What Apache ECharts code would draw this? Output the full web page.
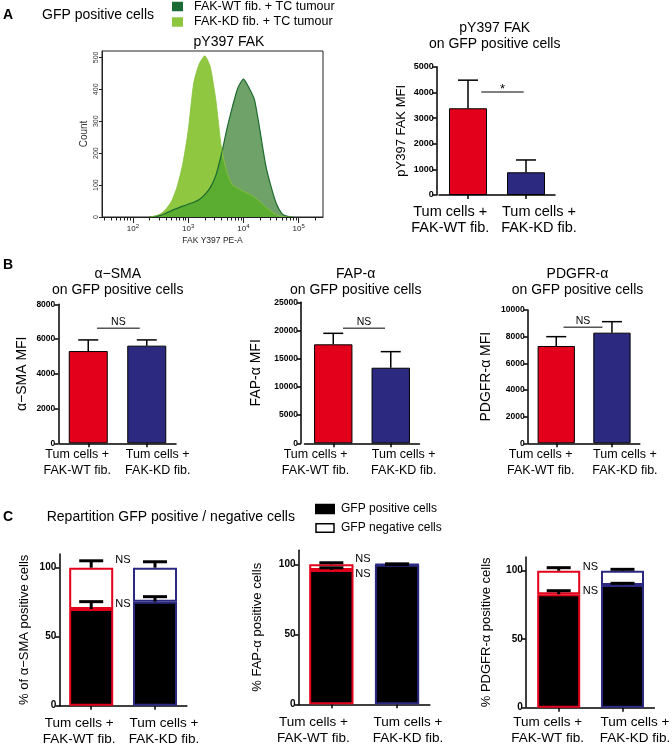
<!DOCTYPE html>
<html><head><meta charset="utf-8">
<script src="https://cdn.jsdelivr.net/npm/echarts@6/dist/echarts.min.js"></script>
<style>html,body{margin:0;padding:0;background:#fff}#c{width:672px;height:748px}</style>
</head><body><div id="c"></div>
<script>
// ================= DATA =================
// Panel A – flow histogram (x = log10 fluorescence, y = count)
const histX  = [2.3,2.4,2.5,2.6,2.7,2.8,2.9,3.0,3.1,3.2,3.3,3.4,3.5,3.6,3.7,3.8,3.9,4.0,4.1,4.2,4.3,4.4,4.5,4.6,4.7,4.8,4.9];
const histWT = [0,2,5,12,20,27,34,40,46,55,70,92,130,195,275,345,405,432,405,367,270,165,95,40,10,2,0];
const histKD = [0,3,10,25,50,95,165,270,420,480,505,470,367,220,140,100,90,80,72,62,48,32,18,6,1,0,0];
const histXTicks = [2,3,4,5];
const histYTicks = [0,100,200,300,400,500];
const histNames = ['FAK-WT fib. + TC tumour','FAK-KD fib. + TC tumour'];

const categories = ['Tum cells +\nFAK-WT fib.','Tum cells +\nFAK-KD fib.'];

// Panel A – pY397 FAK MFI
const pyMean = [3380, 885];
const pyErr  = [1095, 480];
const pySig  = [4010];
// Panel B
const smaMean = [5310, 5620];
const smaErr  = [640, 330];
const smaSig  = [6620];
const fapMean = [17550, 13400];
const fapErr  = [1950, 2850];
const fapSig  = [20390];
const pdgMean = [7300, 8300];
const pdgErr  = [700, 825];
const pdgSig  = [8700];
// Panel C – % positive cells (stacked GFP+ / GFP-)
const cTicks = [0,50,100];
const cNames = ['GFP positive cells','GFP negative cells'];
const smaPos = [70, 75.4],  smaPosErr = [5.4, 3.6],  smaNeg = [30, 24.6],  smaNegErr = [5.0, 4.3];
const fapPos = [96, 99.6],  fapPosErr = [1.5, 0.3],  fapNeg = [4, 0.4],    fapNegErr = [1.1, 0.3];
const pdgPos = [82.8, 89.6], pdgPosErr = [2.6, 1.2], pdgNeg = [17.2, 10.4], pdgNegErr = [2.2, 1.0];
const smaNS = [[0,105.6],[0,73.5]];
const fapNS = [[0,103.6],[0,92.9]];
const pdgNS = [[0,102.9],[0,85.4]];

// ================= CHART =================
const FONT = "'Liberation Sans', Arial, sans-serif";
const RED = '#e2001a', BLUE = '#2b2a80';
const EDGE = [RED, BLUE];

const option = {animation:false, backgroundColor:'#fff', grid:[], xAxis:[], yAxis:[], series:[], legend:[], graphic:[]};

function addGrid(g){ option.grid.push(Object.assign({show:false, containLabel:false, outerBoundsMode:'none'}, g)); return option.grid.length-1; }

const axLine = {show:true, lineStyle:{color:'#000', width:1.5}};
const plain = v => String(v);

function valueY(gi, max, interval, name, gap, nameSize, tickSize, extra){
  option.yAxis.push(Object.assign({type:'value', gridIndex:gi, min:0, max:max, interval:interval,
    name:name, nameLocation:'middle', nameRotate:90, nameGap:gap,
    nameTextStyle:{fontSize:nameSize, fontFamily:FONT, color:'#000'},
    axisLine:axLine,
    axisTick:{show:true, length:4, lineStyle:{color:'#000', width:1.5}},
    axisLabel:{fontSize:tickSize, fontWeight:'bold', fontFamily:FONT, color:'#000', margin:3, formatter:plain},
    splitLine:{show:false}}, extra||{}));
  return option.yAxis.length-1;
}
function catX(gi, shifts, size, lh, margin){
  const base = {fontFamily:FONT, fontSize:size, lineHeight:lh, color:'#000'};
  const pad = s => s < 0 ? [0, -2*s, 0, 0] : [0, 0, 0, 2*s];
  option.xAxis.push({type:'category', gridIndex:gi, data:categories,
    axisLine:axLine,
    axisTick:{show:true, alignWithLabel:true, length:4, lineStyle:{color:'#000', width:1.5}},
    axisLabel:{interval:0, margin:margin,
      formatter:(v,i)=> (i===0 ? '{l|' : '{r|') + v + '}',
      rich:{l:Object.assign({padding:pad(shifts[0])}, base), r:Object.assign({padding:pad(shifts[1])}, base)}},
    splitLine:{show:false}});
  return option.xAxis.length-1;
}
function errRender(capW, lw){
  return function(params, api){
    const c = api.value(0), v = api.value(1), e = api.value(2);
    const p0 = api.coord([c, v]), p1 = api.coord([c, v+e]);
    const s = {stroke:'#000', lineWidth:lw};
    return {type:'group', children:[
      {type:'line', shape:{x1:p0[0], y1:p0[1], x2:p1[0], y2:p1[1]}, style:s},
      {type:'line', shape:{x1:p1[0]-capW/2, y1:p1[1], x2:p1[0]+capW/2, y2:p1[1]}, style:s}]};
  };
}
function sigRender(text, fontSize, fr, dy){
  return function(params, api){
    const y = api.value(2);
    const a = api.coord([api.value(0), y]), b = api.coord([api.value(1), y]);
    const x1 = a[0] + fr[0]*(b[0]-a[0]), x2 = a[0] + fr[1]*(b[0]-a[0]);
    return {type:'group', children:[
      {type:'line', shape:{x1:x1, y1:a[1], x2:x2, y2:a[1]}, style:{stroke:'#555', lineWidth:1.5}},
      {type:'text', style:{text:text, x:(x1+x2)/2, y:a[1]+dy, align:'center', verticalAlign:'bottom', fontSize:fontSize, fontFamily:FONT, fill:'#000'}}]};
  };
}
function nsRender(params, api){
  const p = api.coord([api.value(0), api.value(1)]);
  return {type:'text', style:{text:'NS', x:p[0]+24, y:p[1], align:'left', verticalAlign:'middle', fontSize:11, fontFamily:FONT, fill:'#000'}};
}

function barPanel(g, yOffset, max, interval, name, gap, nameSize, tickSize, means, errs, sig, sigText, sigSize, sigFr, sigDy, shifts, lblSize, lblLH, lblMargin, barW){
  const gi = addGrid(g);
  const xi = catX(gi, shifts, lblSize, lblLH, lblMargin);
  const yi = valueY(gi, max, interval, name, gap, nameSize, tickSize, {offset:yOffset});
  option.series.push({type:'bar', xAxisIndex:xi, yAxisIndex:yi, barWidth:barW, z:2,
    itemStyle:{borderColor:'#000', borderWidth:1},
    data: means.map((v,i)=>({value:v, itemStyle:{color:[RED,BLUE][i]}}))});
  option.series.push({type:'custom', xAxisIndex:xi, yAxisIndex:yi, z:5, silent:true, encode:{x:0, y:1},
    renderItem: errRender(20, 1.5), data: means.map((v,i)=>[i, v, errs[i]])});
  option.series.push({type:'custom', xAxisIndex:xi, yAxisIndex:yi, z:5, silent:true, encode:{x:0, y:2},
    renderItem: sigRender(sigText, sigSize, sigFr, sigDy), data: sig.map(y=>[0, 1, y])});
}

function stackPanel(g, yOffset, name, gap, pos, posErr, neg, negErr, ns, shifts, lblMargin, barW){
  const gi = addGrid(g);
  const xi = catX(gi, shifts, 13.5, 16, lblMargin);
  const yi = valueY(gi, 110, 50, name, gap, 13, 10, {offset:yOffset,
    axisLabel:{fontSize:10, fontWeight:'bold', fontFamily:FONT, color:'#000', margin:3, customValues:cTicks, formatter:plain},
    axisTick:{show:true, length:4, lineStyle:{color:'#000', width:1.5}, customValues:cTicks}});
  const st = 'st' + gi;
  option.series.push({type:'bar', name:cNames[0], stack:st, xAxisIndex:xi, yAxisIndex:yi, barWidth:barW, z:2,
    itemStyle:{color:'#000', borderColor:'#000', borderWidth:2},
    data: pos.map((v,i)=>({value:v, itemStyle:{color:'#000', borderColor:EDGE[i], borderWidth:2}}))});
  option.series.push({type:'bar', name:cNames[1], stack:st, xAxisIndex:xi, yAxisIndex:yi, barWidth:barW, z:2,
    itemStyle:{color:'#fff', borderColor:'#000', borderWidth:2},
    data: neg.map((v,i)=>({value:v, itemStyle:{color:'#fff', borderColor:EDGE[i], borderWidth:2}}))});
  const errData = [];
  pos.forEach((v,i)=>{ errData.push([i, v, posErr[i]]); errData.push([i, v+neg[i], negErr[i]]); });
  option.series.push({type:'custom', xAxisIndex:xi, yAxisIndex:yi, z:5, silent:true, encode:{x:0, y:1},
    renderItem: errRender(24, 3), data: errData});
  option.series.push({type:'custom', xAxisIndex:xi, yAxisIndex:yi, z:6, silent:true, encode:{x:0, y:1},
    renderItem: nsRender, data: ns});
}

// ---------- Panel A histogram ----------
const hg = addGrid({left:102, top:51, width:221, height:166, show:true, borderColor:'#222', borderWidth:1, backgroundColor:'rgba(0,0,0,0)'});
const minorTicks = [];
for (let d=1; d<=5; d++) for (let k=2; k<=9; k++){ const t = d + Math.log10(k); if (t>1.44 && t<5.44) minorTicks.push(t); }
option.xAxis.push({type:'value', gridIndex:hg, min:1.44, max:5.44, position:'bottom', z:5,
  name:'FAK Y397 PE-A', nameLocation:'middle', nameGap:19, nameTextStyle:{fontSize:8.5, fontFamily:FONT, color:'#222'},
  axisLine:{show:true, lineStyle:{color:'#222', width:1}},
  axisTick:{show:true, length:6, lineStyle:{color:'#222', width:1}, customValues:histXTicks},
  axisLabel:{customValues:histXTicks, margin:6, color:'#222',
    formatter:v=>'{b|10}{s|'+v+'}',
    rich:{b:{fontSize:8, fontFamily:FONT, color:'#222', lineHeight:12}, s:{fontSize:6, fontFamily:FONT, color:'#222', verticalAlign:'top', lineHeight:7}}},
  splitLine:{show:false}});
const hxi = option.xAxis.length-1;
option.xAxis.push({type:'value', gridIndex:hg, min:1.44, max:5.44, position:'bottom', z:5,
  axisLine:{show:false}, axisLabel:{show:false}, splitLine:{show:false},
  axisTick:{show:true, length:3.5, lineStyle:{color:'#222', width:1}, customValues:minorTicks}});
option.yAxis.push({type:'value', gridIndex:hg, min:0, max:520, z:5,
  name:'Count', nameLocation:'middle', nameRotate:90, nameGap:12.5, nameTextStyle:{fontSize:10, fontFamily:FONT, color:'#333'},
  axisLine:{show:true, lineStyle:{color:'#222', width:1}},
  axisTick:{show:true, length:3, lineStyle:{color:'#222', width:1}, customValues:histYTicks},
  axisLabel:{customValues:histYTicks, rotate:90, fontSize:7, fontFamily:FONT, color:'#333', margin:2},
  splitLine:{show:false}});
const hyi = option.yAxis.length-1;
const pairs = arr => histX.map((x,i)=>[x, arr[i]]);
option.series.push({type:'line', name:histNames[0], xAxisIndex:hxi, yAxisIndex:hyi, data:pairs(histWT), smooth:0.2, showSymbol:false, z:2,
  color:'#1d6b30', lineStyle:{color:'#1d6b30', width:1.2}, areaStyle:{color:'#6fa268', opacity:1}});
option.series.push({type:'line', name:histNames[1], xAxisIndex:hxi, yAxisIndex:hyi, data:pairs(histKD), smooth:0.2, showSymbol:false, z:2,
  color:'#8dc63f', lineStyle:{color:'#86c23a', width:0.8}, areaStyle:{color:'#8fc740', opacity:1}});
option.series.push({type:'line', name:'overlap', xAxisIndex:hxi, yAxisIndex:hyi, data:histX.map((x,i)=>[x, Math.min(histWT[i], histKD[i])]), smooth:0.2, showSymbol:false, z:2,
  lineStyle:{width:0}, areaStyle:{color:'#5aad31', opacity:1}});

option.legend.push({left:172, top:0, orient:'vertical', icon:'rect', itemWidth:11, itemHeight:9.5, itemGap:2.5, padding:0, selectedMode:false,
  textStyle:{fontSize:12.5, fontFamily:FONT, color:'#000', padding:[0,0,0,6]},
  data:[{name:histNames[0], itemStyle:{color:'#1a6a35'}}, {name:histNames[1], itemStyle:{color:'#8dc63f'}}]});

// ---------- Panel A bar ----------
barPanel({left:439, top:66.7, width:116, height:128.3}, 2.3, 5000, 1000, 'pY397 FAK MFI', 28.4, 13, 9,
  pyMean, pyErr, pySig, '*', 13, [0.23,0.96], 4, [-17.7,13], 14.5, 16.6, 8.4, 38);
// ---------- Panel B ----------
barPanel({left:59, top:304.3, width:117, height:139}, 0.7, 8000, 2000, '\u03b1\u2212SMA MFI', 29.6, 14, 8.5,
  smaMean, smaErr, smaSig, 'NS', 10.5, [0.15,0.88], -1, [-11,11], 12.5, 16, 3.7, 39);
barPanel({left:304.5, top:302.3, width:115, height:141}, 3.5, 25000, 5000, 'FAP-\u03b1 MFI', 37.7, 14, 8.5,
  fapMean, fapErr, fapSig, 'NS', 10.5, [0.17,0.9], -1, [-17.7,13], 12.5, 16, 3.7, 38.4);
barPanel({left:528.4, top:310, width:111.4, height:133.3}, 0.7, 10000, 2000, 'PDGFR-\u03b1 MFI', 34.4, 14, 8.5,
  pdgMean, pdgErr, pdgSig, 'NS', 10.5, [0.13,0.83], -1, [-15.5,13], 12.5, 16, 3.7, 37.3);
// ---------- Panel C ----------
stackPanel({left:59.3, top:553.9, width:127.6, height:151.8}, 0, '% of \u03b1\u2212SMA positive cells', 28.6,
  smaPos, smaPosErr, smaNeg, smaNegErr, smaNS, [-12,9], 9.6, 44);
stackPanel({left:298.5, top:550.3, width:131.4, height:154}, 0, '% FAP-\u03b1 positive cells', 35,
  fapPos, fapPosErr, fapNeg, fapNegErr, fapNS, [-18,11], 10, 44.3);
stackPanel({left:526.8, top:557, width:127.6, height:150.7}, 1, '% PDGFR-\u03b1 positive cells', 32.4,
  pdgPos, pdgPosErr, pdgNeg, pdgNegErr, pdgNS, [-11,12.5], 6.6, 43);

option.legend.push({left:315, top:503, orient:'vertical', icon:'rect', itemWidth:18, itemHeight:8.5, itemGap:7, padding:0, selectedMode:false,
  textStyle:{fontSize:12, fontFamily:FONT, color:'#000', padding:[0,0,0,2]},
  data:[{name:cNames[0], itemStyle:{color:'#000'}}, {name:cNames[1], itemStyle:{color:'#fff', borderColor:'#000', borderWidth:1.5}}]});

// ---------- texts ----------
function txt(text, x, y, size, align, weight, lh){
  option.graphic.push({type:'text', x:x, y:y, silent:true,
    style:{text:text, align:align||'left', verticalAlign:'middle', fontSize:size, fontWeight:weight||'normal', fontFamily:FONT, fill:'#000', lineHeight:lh||size}});
}
txt('A', 3, 15, 14, 'left', 'bold');
txt('GFP positive cells', 42, 15, 14);
txt('pY397 FAK', 229, 42, 14, 'center');
txt('pY397 FAK\non GFP positive cells', 494.7, 36.3, 14, 'center', 'normal', 16);
txt('B', 3, 265, 14, 'left', 'bold');
txt('\u03b1\u2212SMA\non GFP positive cells', 117.7, 282, 14, 'center', 'normal', 16);
txt('FAP-\u03b1\non GFP positive cells', 355.7, 282, 14, 'center', 'normal', 16);
txt('PDGFR-\u03b1\non GFP positive cells', 577.5, 282, 14, 'center', 'normal', 16);
txt('C', 3, 517, 14, 'left', 'bold');
txt('Repartition GFP positive / negative cells', 46.7, 517, 14);

const chart = echarts.init(document.getElementById('c'), null, {renderer:'canvas'});
chart.setOption(option);
</script></body></html>
